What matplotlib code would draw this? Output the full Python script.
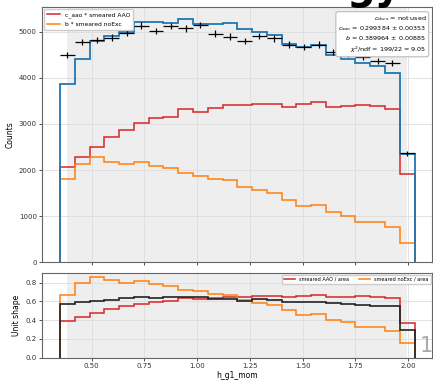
import matplotlib
matplotlib.use('Agg')
import matplotlib.pyplot as plt
import numpy as np

# binning of h_g1_mom (24 bins)
edges = np.linspace(0.35, 2.03, 25)
centers = 0.5 * (edges[:-1] + edges[1:])

# top panel: counts
data_counts = [4496, 4778, 4822, 4872, 4980, 5132, 5017, 5125, 5075, 5147, 4960, 4893,
               4800, 4909, 4858, 4720, 4663, 4720, 4568, 4518, 4446, 4373, 4330, 2364]
data_err = [67, 69, 69, 70, 71, 72, 71, 72, 71, 72, 70, 70,
            69, 70, 70, 69, 68, 69, 68, 67, 67, 66, 66, 49]
fit_total = [3868, 4410, 4810, 4905, 4995, 5212, 5205, 5197, 5268, 5160, 5170, 5184,
             5050, 5000, 4940, 4740, 4670, 4720, 4490, 4403, 4320, 4260, 4095, 2349]
aao_scaled = [2060, 2290, 2494, 2718, 2878, 3028, 3123, 3158, 3332, 3267, 3345, 3405,
              3412, 3427, 3427, 3375, 3440, 3477, 3368, 3390, 3418, 3397, 3325, 1915]
noexc_scaled = [1800, 2132, 2290, 2182, 2132, 2182, 2089, 2039, 1930, 1880, 1810, 1775,
                1630, 1568, 1497, 1351, 1221, 1236, 1085, 1011, 881, 868, 759, 412]

# bottom panel: unit shapes
aao_shape = [0.391, 0.437, 0.472, 0.515, 0.547, 0.576, 0.594, 0.604, 0.637, 0.625, 0.640, 0.652,
             0.652, 0.655, 0.655, 0.645, 0.658, 0.665, 0.644, 0.648, 0.654, 0.650, 0.636, 0.366]
noexc_shape = [0.669, 0.800, 0.861, 0.829, 0.800, 0.818, 0.783, 0.762, 0.726, 0.708, 0.683, 0.669,
               0.615, 0.587, 0.561, 0.506, 0.457, 0.463, 0.406, 0.379, 0.330, 0.325, 0.284, 0.158]
data_shape = [0.569, 0.597, 0.608, 0.615, 0.633, 0.647, 0.633, 0.647, 0.644, 0.651, 0.630, 0.622,
              0.609, 0.623, 0.617, 0.599, 0.592, 0.599, 0.580, 0.573, 0.564, 0.555, 0.549, 0.300]

fit_range = (0.385, 1.995)
fit_text = ('$c_{dvcs}$ = not used\n'
            '$c_{aao}$ = 0.299384 ± 0.00353\n'
            '$b$ = 0.389964 ± 0.00885\n'
            '$\\chi^2$/ndf = 199/22 = 9.05')

colors = {
    'fit': '#1f77b4',
    'aao': '#d62728',
    'noexc': '#ff7f0e',
    'data': 'black',
    'span': '#eeeeee',
    'grid': '#dddddd',
    'spine': '#666666',
}

W, H = 433, 380
fig = plt.figure(figsize=(W / 100, H / 100), dpi=100)
ax1 = fig.add_axes([42.3 / W, 1 - 262.3 / H, 390 / W, 255 / H])
ax2 = fig.add_axes([42.3 / W, 1 - 357.7 / H, 390 / W, 84.4 / H])

for ax in (ax1, ax2):
    ax.axvspan(*fit_range, color=colors['span'], zorder=0.2, lw=0)
    ax.set_axisbelow(True)
    ax.grid(True, color=colors['grid'], lw=0.6)
    ax.set_xlim(0.266, 2.114)
    ax.tick_params(labelsize=5, length=2.5, width=0.6, colors='#333333', pad=1.5)
    for s in ax.spines.values():
        s.set_color(colors['spine'])
        s.set_linewidth(0.8)

# top panel
ax1.stairs(aao_scaled, edges, color=colors['aao'], lw=1.1, label='c_aao * smeared AAO')
ax1.stairs(noexc_scaled, edges, color=colors['noexc'], lw=1.1, label='b * smeared noExc')
ax1.stairs(fit_total, edges, color=colors['fit'], lw=1.3)
ax1.errorbar(centers, data_counts, xerr=0.035, yerr=data_err, fmt='none',
             ecolor=colors['data'], elinewidth=0.9, capsize=0, zorder=5)
ax1.set_ylim(0, 5530)
ax1.set_yticks([0, 1000, 2000, 3000, 4000, 5000])
ax1.set_xticks([0.5, 0.75, 1.0, 1.25, 1.5, 1.75, 2.0])
ax1.tick_params(labelbottom=False)
ax1.set_ylabel('Counts', fontsize=5.5, labelpad=3)
ax1.legend(loc='upper left', fontsize=4.3, handlelength=2.2, borderpad=0.5,
           labelspacing=0.6, edgecolor='#cccccc', framealpha=1, borderaxespad=0.3)
ax1.text(0.985, 0.975, fit_text, transform=ax1.transAxes, ha='right', va='top',
         fontsize=4.6, linespacing=1.25, multialignment='right', zorder=6,
         bbox=dict(boxstyle='round,pad=0.35', fc='white', ec='#bbbbbb', lw=0.8))

# bottom panel
ax2.stairs(aao_shape, edges, color=colors['aao'], lw=1.1, label='smeared AAO / area')
ax2.stairs(noexc_shape, edges, color=colors['noexc'], lw=1.1, label='smeared noExc / area')
ax2.stairs(data_shape, edges, color='#222222', lw=1.2)
ax2.set_ylim(0, 0.9)
ax2.set_yticks([0.0, 0.2, 0.4, 0.6, 0.8])
ax2.set_xticks([0.5, 0.75, 1.0, 1.25, 1.5, 1.75, 2.0])
ax2.set_ylabel('Unit shape', fontsize=5.5, labelpad=3)
ax2.set_xlabel('h_g1_mom', fontsize=5.5, labelpad=1.5)
ax2.legend(loc='upper right', ncol=2, fontsize=3.6, handlelength=2.2, borderpad=0.4,
           columnspacing=2.0, edgecolor='#cccccc', framealpha=1, borderaxespad=0.3)

# screenshot remnants (cut off in the reference too)
fig.text(426 / W, 1 - 345.5 / H, '1', fontsize=15, color='#aaaaaa', ha='center', va='center')
fig.text(346 / W, 1 + 1.0 / H, 'gy', fontsize=29, fontweight='bold', color='black',
         ha='left', va='baseline')

fig.savefig('out.png', dpi=100)
